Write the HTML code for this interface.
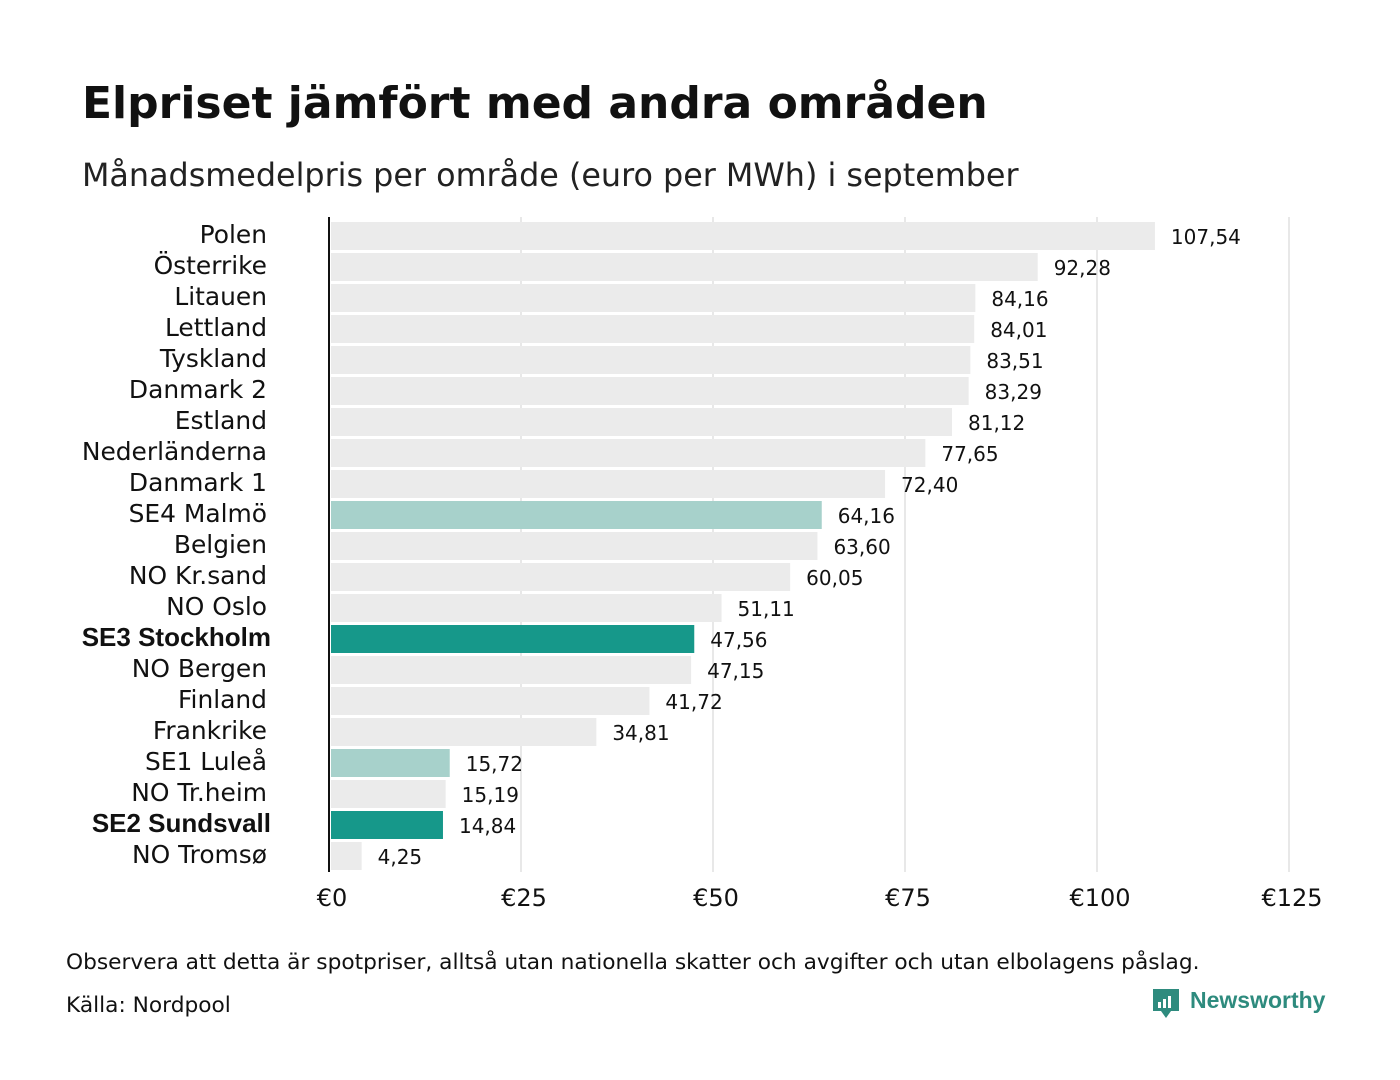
<!DOCTYPE html>
<html><head><meta charset="utf-8"><style>
body{margin:0;background:#fff;width:1400px;height:1080px;overflow:hidden}
svg{display:block;font-family:"DejaVu Sans","Liberation Sans",sans-serif}
</style></head><body>
<svg id="chart" width="1400" height="1080">
<text x="82" y="118" font-size="44" font-weight="bold" fill="#111">Elpriset jämfört med andra områden</text>
<text x="82" y="186" font-size="31.8" fill="#222">Månadsmedelpris per område (euro per MWh) i september</text>
<g id="grid"></g><g id="bars"></g>
<line x1="329" x2="329" y1="217" y2="872" stroke="#111" stroke-width="2"/>
<text x="66" y="969" font-size="21.7" fill="#111">Observera att detta är spotpriser, alltså utan nationella skatter och avgifter och utan elbolagens påslag.</text>
<text x="66" y="1012" font-size="21.7" fill="#111">Källa: Nordpool</text>
<g>
<path d="M1153 989 h26 v22 h-8 l-5 7 l-5 -7 h-8z" fill="#2e8b7e"/>
<rect x="1158" y="1002" width="3" height="6" fill="#fff"/><rect x="1163" y="999" width="3" height="9" fill="#fff"/><rect x="1168" y="996" width="3" height="12" fill="#fff"/>
<text x="1190" y="1008" font-family="Liberation Sans,sans-serif" font-size="23" font-weight="bold" fill="#2e8b7e">Newsworthy</text>
</g>
</svg>
<script>
const categories=["Polen","Österrike","Litauen","Lettland","Tyskland","Danmark  2","Estland","Nederländerna","Danmark  1","SE4  Malmö","Belgien","NO Kr.sand","NO Oslo","SE3 Stockholm","NO Bergen","Finland","Frankrike","SE1  Luleå","NO Tr.heim","SE2 Sundsvall","NO Tromsø"];
const values=[107.54,92.28,84.16,84.01,83.51,83.29,81.12,77.65,72.40,64.16,63.60,60.05,51.11,47.56,47.15,41.72,34.81,15.72,15.19,14.84,4.25];
const valueLabels=["107,54","92,28","84,16","84,01","83,51","83,29","81,12","77,65","72,40","64,16","63,60","60,05","51,11","47,56","47,15","41,72","34,81","15,72","15,19","14,84","4,25"];
const highlight=["","","","","","","","","","light","","","","dark","","","","light","","dark",""];
const ticks=[0,25,50,75,100,125];
const tickLabels=["€0","€25","€50","€75","€100","€125"];
const NS="http://www.w3.org/2000/svg";
const x=v=>329+v*7.68;
const y=i=>222+i*31;
function mk(t,a,p){const e=document.createElementNS(NS,t);for(const k in a)e.setAttribute(k,a[k]);p.appendChild(e);return e;}
const grid=document.getElementById('grid'),bars=document.getElementById('bars');
ticks.forEach((t,i)=>{
 if(t>0){const l=mk('line',{x1:x(t),x2:x(t),y1:217,y2:872,stroke:'#d0d0d0','stroke-width':1},grid);
 
 }
 const tx=mk('text',{x:x(t)+3,y:906,'font-size':24,'text-anchor':'middle',fill:'#111'},grid);
 tx.textContent=tickLabels[i];
 
 
});
categories.forEach((c,i)=>{
 const col=highlight[i]==='dark'?'#16988a':highlight[i]==='light'?'#a7d1cb':'#ebebeb';
 const r=mk('rect',{x:331,y:y(i),width:Math.max(0,x(values[i])-331),height:28,fill:col},bars);
 
 
 const bold=highlight[i]==='dark';
 const lb=mk('text',{x:bold?271:267,y:y(i)+21,'font-size':bold?26:24.9,'text-anchor':'end',fill:'#111','font-weight':bold?'bold':'normal','font-family':bold?'Liberation Sans,sans-serif':'DejaVu Sans,sans-serif'},bars);
 lb.textContent=c;
 
 
 const vl=mk('text',{x:x(values[i])+16,y:y(i)+22,'font-size':20,fill:'#111'},bars);
 vl.textContent=valueLabels[i];
 
 
});
</script>
</body></html>
